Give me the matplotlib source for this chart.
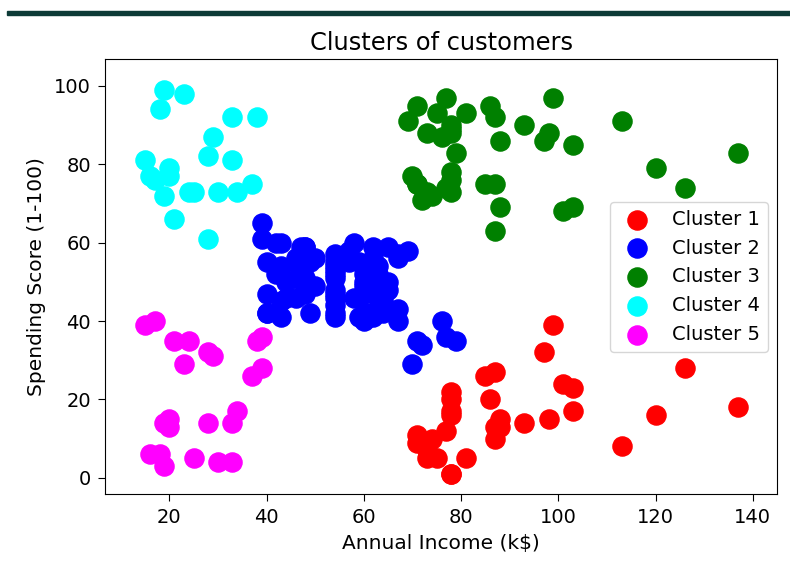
import matplotlib
matplotlib.use("Agg")
import matplotlib.pyplot as plt
from matplotlib.patches import Rectangle

# annual income (k$) / spending score (1-100) per cluster
x1 = [71, 71, 73, 73, 74, 75, 77, 78, 78, 78, 78, 78, 78, 81, 85, 86, 87, 87, 87, 88, 88,
      93, 97, 98, 99, 101, 103, 103, 113, 120, 126, 137]
y1 = [11, 9, 5, 7, 10, 5, 12, 22, 17, 20, 16, 1, 1, 5, 26, 20, 27, 13, 10, 13, 15,
      14, 32, 15, 39, 24, 17, 23, 8, 16, 28, 18]

x2 = [39, 39, 40, 40, 40, 40, 42, 42, 43, 43, 43, 43, 44, 44, 46, 46, 46, 46, 47, 47,
      48, 48, 48, 48, 48, 48, 49, 49, 50, 50, 54, 54, 54, 54, 54, 54, 54, 54, 54, 54,
      54, 54, 57, 57, 58, 58, 59, 59, 60, 60, 60, 60, 60, 60, 61, 61, 62, 62, 62, 62,
      62, 62, 63, 63, 63, 63, 63, 63, 64, 64, 65, 65, 65, 65, 67, 67, 67, 67, 69,
      70, 71, 72, 76, 77, 79]
y2 = [61, 65, 55, 47, 42, 42, 52, 60, 54, 60, 45, 41, 50, 46, 51, 46, 56, 55, 52, 59,
      51, 59, 50, 48, 59, 47, 55, 42, 49, 56, 47, 54, 53, 48, 52, 42, 51, 55, 41, 44,
      57, 46, 58, 55, 60, 46, 55, 41, 49, 40, 42, 52, 47, 50, 42, 49, 41, 48, 59, 55,
      56, 42, 50, 46, 43, 48, 52, 54, 42, 46, 48, 50, 43, 59, 43, 57, 56, 40, 58,
      29, 35, 34, 40, 36, 35]

x3 = [69, 70, 71, 71, 71, 72, 73, 73, 74, 75, 76, 77, 77, 78, 78, 78, 78, 78, 78, 79,
      81, 85, 86, 87, 87, 87, 88, 88, 93, 97, 98, 99, 101, 103, 103, 113, 120, 126, 137]
y3 = [91, 77, 95, 75, 75, 71, 88, 73, 72, 93, 87, 97, 74, 90, 88, 76, 89, 78, 73, 83,
      93, 75, 95, 63, 75, 92, 86, 69, 90, 86, 88, 97, 68, 85, 69, 91, 79, 74, 83]

x4 = [15, 16, 17, 18, 19, 19, 20, 20, 21, 23, 24, 25, 28, 28, 29, 30, 33, 33, 34, 37, 38]
y4 = [81, 77, 76, 94, 72, 99, 77, 79, 66, 98, 73, 73, 82, 61, 87, 73, 92, 81, 73, 75, 92]

x5 = [15, 16, 17, 18, 19, 19, 20, 20, 21, 23, 24, 25, 28, 28, 29, 30, 33, 33, 34, 37,
      38, 39, 39]
y5 = [39, 6, 40, 6, 3, 14, 15, 13, 35, 29, 35, 5, 14, 32, 31, 4, 4, 14, 17, 26,
      35, 36, 28]

clusters = [(x1, y1, 'red'), (x2, y2, 'blue'), (x3, y3, 'green'),
            (x4, y4, 'cyan'), (x5, y5, 'magenta')]

fig = plt.figure(figsize=(7.9, 5.62), dpi=100)
ax = fig.add_axes([0.1333, 0.1205, 0.8507, 0.774])

# dark strip along the top of the screenshot
fig.patches.append(Rectangle((0.009, 0.974), 0.991, 0.007, transform=fig.transFigure,
                             color='#0d3b37', zorder=0))

for i, (xs, ys, col) in enumerate(clusters):
    ax.scatter(xs, ys, s=190, c=col, label='Cluster %d' % (i + 1))

ax.set_xlim(6.85, 145.05)
ax.set_ylim(-4.2, 106.8)
ax.set_xticks([20, 40, 60, 80, 100, 120, 140])
ax.set_yticks([0, 20, 40, 60, 80, 100])
ax.tick_params(labelsize=14, length=4.7, pad=5.5)
ax.set_title('Clusters of customers', fontsize=17.4, pad=7)
ax.set_xlabel('Annual Income (k$)', fontsize=14.5, labelpad=5)
ax.set_ylabel('Spending Score (1-100)', fontsize=14.5, labelpad=6)
ax.legend(loc='center right', fontsize=14)

fig.savefig('out.png', dpi=100)
